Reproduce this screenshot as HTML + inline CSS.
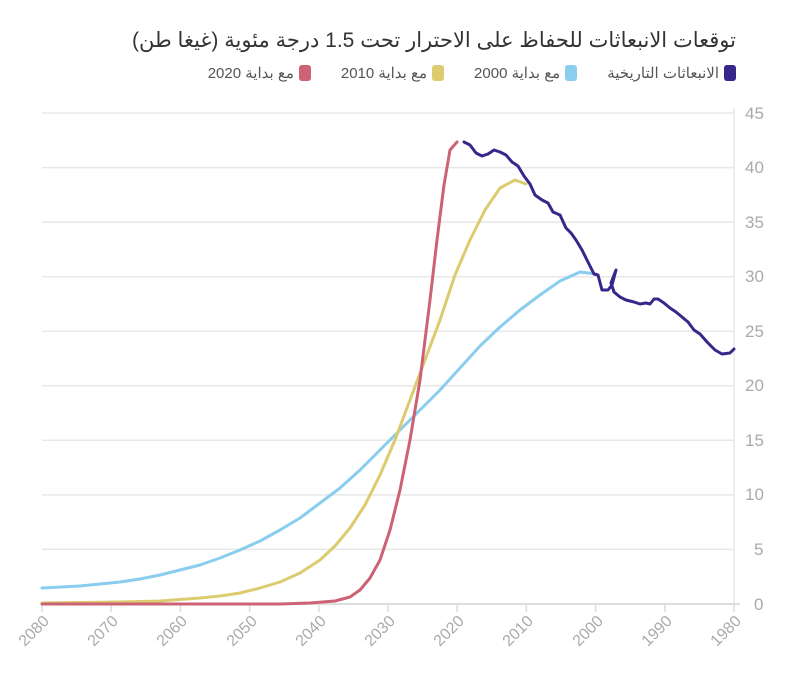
<!DOCTYPE html>
<html><head><meta charset="utf-8"><style>
body{margin:0;background:#fff;width:805px;height:677px;overflow:hidden;position:relative;font-family:"Liberation Sans","Noto Sans CJK SC",sans-serif}
svg text{font-family:"Liberation Sans","Noto Sans CJK SC",sans-serif}
.t{position:absolute;right:69px;top:28px;font-size:21px;color:#333;direction:rtl;white-space:nowrap}
.lg{position:absolute;right:69px;top:64px;font-size:15px;color:#555;direction:rtl;white-space:nowrap;display:flex;gap:30px}
.lg span{display:inline-flex;align-items:center;gap:5px}
.lg i{display:inline-block;width:12px;height:16px;border-radius:3px}
</style></head><body>
<div class="t">توقعات الانبعاثات للحفاظ على الاحترار تحت 1.5 درجة مئوية (غيغا طن)</div>
<div class="lg">
<span><i style="background:#35288a"></i>الانبعاثات التاريخية</span>
<span><i style="background:#89cdef"></i>مع بداية 2000</span>
<span><i style="background:#dccb6f"></i>مع بداية 2010</span>
<span><i style="background:#cc6374"></i>مع بداية 2020</span>
</div>
<svg width="805" height="677" viewBox="0 0 805 677">
<g stroke="#e8e8e8" stroke-width="1.5">
<line x1="42" y1="113" x2="734" y2="113"/><line x1="42" y1="167.6" x2="734" y2="167.6"/>
<line x1="42" y1="222.1" x2="734" y2="222.1"/><line x1="42" y1="276.7" x2="734" y2="276.7"/>
<line x1="42" y1="331.2" x2="734" y2="331.2"/><line x1="42" y1="385.8" x2="734" y2="385.8"/>
<line x1="42" y1="440.3" x2="734" y2="440.3"/><line x1="42" y1="494.9" x2="734" y2="494.9"/>
<line x1="42" y1="549.4" x2="734" y2="549.4"/>
<line x1="734" y1="108" x2="734" y2="604"/>
</g>
<line x1="42" y1="604" x2="740" y2="604" stroke="#ddd" stroke-width="2"/>
<g stroke="#ddd" stroke-width="1.5">
<line x1="42" y1="604" x2="42" y2="612"/><line x1="111.2" y1="604" x2="111.2" y2="612"/><line x1="180.4" y1="604" x2="180.4" y2="612"/><line x1="249.6" y1="604" x2="249.6" y2="612"/><line x1="318.8" y1="604" x2="318.8" y2="612"/><line x1="388" y1="604" x2="388" y2="612"/><line x1="457.2" y1="604" x2="457.2" y2="612"/><line x1="526.4" y1="604" x2="526.4" y2="612"/><line x1="595.6" y1="604" x2="595.6" y2="612"/><line x1="664.8" y1="604" x2="664.8" y2="612"/><line x1="734" y1="604" x2="734" y2="612"/>
</g>
<g font-size="17" fill="#aaa">
<text x="745" y="119">45</text><text x="745" y="173">40</text><text x="745" y="228">35</text><text x="745" y="282">30</text><text x="745" y="337">25</text><text x="745" y="391">20</text><text x="745" y="446">15</text><text x="745" y="500">10</text><text x="754" y="555">5</text><text x="754" y="610">0</text>
</g>
<g font-size="16" fill="#aaa" text-anchor="end">
<text transform="translate(50,622) rotate(-45)">2080</text>
<text transform="translate(119,622) rotate(-45)">2070</text>
<text transform="translate(188,622) rotate(-45)">2060</text>
<text transform="translate(258,622) rotate(-45)">2050</text>
<text transform="translate(327,622) rotate(-45)">2040</text>
<text transform="translate(396,622) rotate(-45)">2030</text>
<text transform="translate(465,622) rotate(-45)">2020</text>
<text transform="translate(534,622) rotate(-45)">2010</text>
<text transform="translate(604,622) rotate(-45)">2000</text>
<text transform="translate(673,622) rotate(-45)">1990</text>
<text transform="translate(742,622) rotate(-45)">1980</text>
</g>
<g fill="none" stroke-width="3" stroke-linejoin="round" stroke-linecap="round">
<polyline stroke="#89cdef" points="596,274 580,272 560,281 540,295 520,310 500,327 480,346 460,368 440,390 420,410 400,430 380,450 360,470 340,488 320,503 300,518 280,530 260,541 240,550 220,558 200,565 180,570 160,575 140,579 120,582 100,584 80,586 42,588"/>
<polyline stroke="#dccb6f" points="526,184 515,180 500,188 485,210 470,240 455,275 440,320 425,360 410,400 395,440 380,475 365,505 350,528 335,546 320,560 300,573 280,582 260,588 240,593 220,596 200,598 160,601 120,602 42,603"/>
<polyline stroke="#cc6374" points="457,142 450,150 444,185 437,240 430,300 420,380 410,440 400,490 390,530 380,560 370,578 360,590 350,597 335,601 310,603 280,604 42,604"/>
<polyline stroke="#35288a" points="734,349 730,353 722,354 715,350 708,343 700,334 694,330 688,322 682,317 676,312 670,308 664,303 658,299 654,299 650,304 646,303 640,304 634,302 626,300 620,297 614,292 611,283 616,270 612,285 608,290 602,290 598,275 594,274 588,262 582,250 576,240 571,233 566,228 560,215 553,212 548,203 542,200 535,195 530,184 524,176 518,166 512,162 506,155 500,152 494,150 488,154 482,156 476,153 470,145 464,142"/>
</g>
</svg>
</body></html>
